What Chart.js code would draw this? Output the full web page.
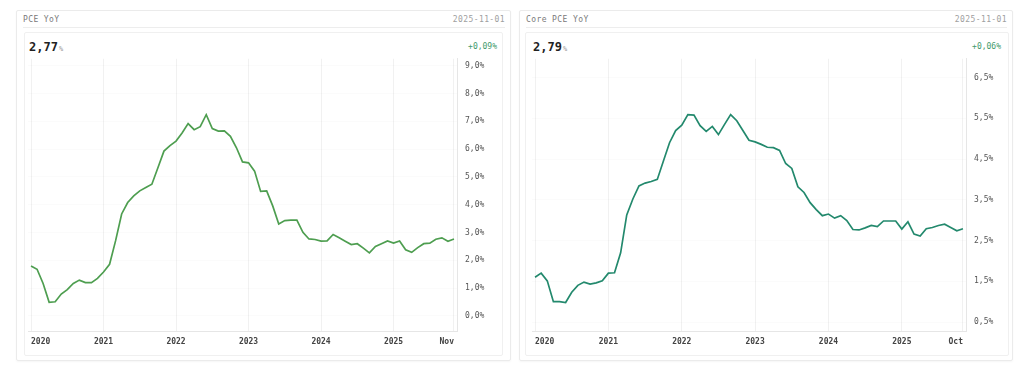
<!DOCTYPE html>
<html>
<head>
<meta charset="utf-8">
<script src="https://cdn.jsdelivr.net/npm/chart.js@4/dist/chart.umd.min.js"></script>
<style>
  html, body { margin: 0; padding: 0; background: #fff; width: 1024px; height: 370px; overflow: hidden; }
  body { font-family: "DejaVu Sans Mono", monospace; position: relative; }
  .card { position: absolute; top: 10px; height: 351px; border: 1px solid #ebebeb; border-radius: 2px; box-sizing: border-box; box-shadow: 0 1px 2px rgba(0,0,0,0.04); }
  .head { position: absolute; left: 6px; right: 5px; top: 0; height: 16px; border-bottom: 1px solid #ededed; font-size: 8px; color: #7a7a7a; letter-spacing: 0.4px; line-height: 17px; }
  .head .date { position: absolute; right: 0; top: 0; color: #a0a0a0; }
  .inner { position: absolute; top: 21px; border: 1px solid #f0f0f0; border-radius: 2px; box-sizing: border-box; }
  .val { position: absolute; top: 40px; font-size: 12px; font-weight: bold; color: #222; }
  .val small { font-size: 7px; font-weight: normal; color: #9a9a9a; margin-left: 1px; }
  .delta { position: absolute; top: 42px; font-size: 8px; color: #3f9a6c; }
  canvas { position: absolute; }
</style>
</head>
<body>

<div class="card" style="left:16px; width:495px;">
  <div class="head">PCE YoY<span class="date">2025-11-01</span></div>
  <div class="inner" style="left:7px; width:479px; height:324px;"></div>
</div>
<div class="val" style="left:29px;">2,77<small>%</small></div>
<div class="delta" style="right:527px;">+0,09%</div>
<div style="position:absolute; left:25px; top:46px; width:476px; height:306px;"><canvas id="pce"></canvas></div>

<div class="card" style="left:519px; width:494px;">
  <div class="head">Core PCE YoY<span class="date">2025-11-01</span></div>
  <div class="inner" style="left:5px; width:484px; height:324px;"></div>
</div>
<div class="val" style="left:533px;">2,79<small>%</small></div>
<div class="delta" style="right:23px;">+0,06%</div>
<div style="position:absolute; left:529px; top:46px; width:477px; height:306px;"><canvas id="core"></canvas></div>

<script>
// mois de janvier 2020 à novembre 2025
const months = [];
for (let y = 2020; y <= 2025; y++) {
    for (let m = 1; m <= 12; m++) {
        if (y === 2025 && m > 11) break;
        months.push(y + "-" + String(m).padStart(2, "0"));
    }
}

// PCE YoY (%)
const pceValues = [
    1.80, 1.68, 1.17, 0.49, 0.51, 0.79, 0.95, 1.17, 1.29, 1.20, 1.20, 1.35,
    1.58, 1.86, 2.71, 3.67, 4.08, 4.32, 4.50, 4.62, 4.74, 5.33, 5.93, 6.13,
    6.29, 6.58, 6.92, 6.70, 6.81, 7.24, 6.74, 6.65, 6.66, 6.46, 6.05, 5.54,
    5.51, 5.21, 4.48, 4.50, 3.96, 3.31, 3.43, 3.45, 3.45, 3.01, 2.77, 2.75,
    2.69, 2.70, 2.93, 2.81, 2.69, 2.57, 2.60, 2.44, 2.27, 2.50, 2.60, 2.70,
    2.62, 2.70, 2.38, 2.29, 2.46, 2.60, 2.62, 2.76, 2.81, 2.69, 2.77
];

// Core PCE YoY (%)
const coreValues = [
    1.60, 1.70, 1.51, 1.00, 1.00, 0.98, 1.23, 1.40, 1.48, 1.43, 1.46, 1.51,
    1.70, 1.71, 2.20, 3.13, 3.52, 3.84, 3.91, 3.95, 4.00, 4.45, 4.90, 5.20,
    5.33, 5.59, 5.58, 5.32, 5.18, 5.30, 5.10, 5.35, 5.59, 5.44, 5.20, 4.96,
    4.92, 4.86, 4.79, 4.78, 4.71, 4.39, 4.27, 3.82, 3.68, 3.43, 3.26, 3.11,
    3.15, 3.05, 3.11, 2.99, 2.77, 2.76, 2.81, 2.87, 2.84, 2.98, 2.98, 2.98,
    2.78, 2.96, 2.66, 2.61, 2.79, 2.82, 2.87, 2.90, 2.82, 2.74, 2.79
];

// graduations de l'axe x
const tickMonths = ["2020-01", "2021-01", "2022-01", "2023-01", "2024-01", "2025-01", "2025-11"];
const pceTickLabels = ["2020", "2021", "2022", "2023", "2024", "2025", "Nov"];
const coreTickLabels = ["2020", "2021", "2022", "2023", "2024", "2025", "Oct"];

// graduations de l'axe y
const pceYTicks = [0, 1, 2, 3, 4, 5, 6, 7, 8, 9];
const coreYTicks = [0.5, 1.5, 2.5, 3.5, 4.5, 5.5, 6.5];

const FONT = '"DejaVu Sans Mono", monospace';

function createGraph(id, values, color, xLabels, yTicks, yMin, yMax, yWidth) {
    const ctx = document.getElementById(id);
    new Chart(ctx, {
        type: 'line',
        data: {
            labels: months,
            datasets: [{
                data: values,
                borderColor: color,
                borderWidth: 1.7,
                pointRadius: 0,
                tension: 0,
                fill: false
            }]
        },
        options: {
            responsive: true,
            maintainAspectRatio: false,
            animation: false,
            layout: { padding: { left: 3, top: 3, right: 0, bottom: 0 } },
            plugins: { legend: { display: false }, tooltip: { enabled: false } },
            scales: {
                x: {
                    type: 'category',
                    offset: true,
                    grid: { color: '#f1f1f1', drawTicks: false, offset: false },
                    border: { display: true, color: '#e6e6e6' },
                    afterBuildTicks: function(scale) {
                        scale.ticks = scale.ticks.filter(t => tickMonths.includes(months[t.value]));
                    },
                    afterFit: function(scale) { scale.height = 21; },
                    ticks: {
                        autoSkip: false,
                        maxRotation: 0,
                        align: 'inner',
                        padding: 6,
                        color: '#444',
                        font: { family: FONT, size: 8, weight: 'bold' },
                        callback: function(value) {
                            return xLabels[tickMonths.indexOf(months[value])];
                        }
                    }
                },
                y: {
                    position: 'right',
                    min: yMin,
                    max: yMax,
                    grid: { color: 'rgba(0,0,0,0.015)', drawTicks: false },
                    border: { display: true, color: '#e6e6e6' },
                    afterBuildTicks: function(scale) {
                        scale.ticks = yTicks.map(v => ({ value: v }));
                    },
                    afterFit: function(scale) { scale.width = yWidth; },
                    ticks: {
                        padding: 8,
                        color: '#555',
                        font: { family: FONT, size: 8 },
                        callback: function(value) {
                            return value.toFixed(1).replace('.', ',') + '%';
                        }
                    }
                }
            }
        }
    });
}

addEventListener("DOMContentLoaded", () => {
    createGraph("pce", pceValues, '#4e9e50', pceTickLabels, pceYTicks, -0.54, 9.25, 44);
    createGraph("core", coreValues, '#23896d', coreTickLabels, coreYTicks, 0.28, 6.96, 40);
});
</script>
</body>
</html>
